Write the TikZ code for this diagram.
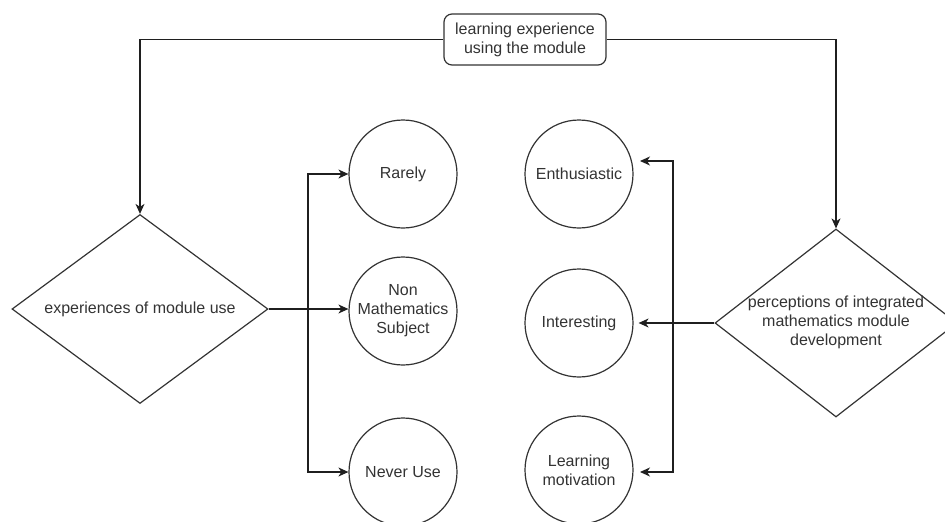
\documentclass[tikz,border=0pt]{standalone}
\usepackage{fontspec}
\setmainfont{Liberation Sans}
\usetikzlibrary{shapes.geometric,arrows.meta}
\begin{document}
\begin{tikzpicture}[x=1pt,y=-1pt,
  font=\fontsize{16}{19}\selectfont,
  every node/.style={text=black!80},
  conn/.style={draw=black!88,line width=1.2pt,-{Stealth[length=10pt,width=9pt,inset=3pt]}},
  topic/.style={draw=black!80,line width=1.2pt,rounded corners=8pt,minimum width=162pt,minimum height=51pt,align=center,inner sep=0pt},
  choice/.style={diamond,draw=black!80,line width=1.2pt,inner sep=0pt},
  item/.style={circle,draw=black!80,line width=1.2pt,minimum size=108pt,inner sep=0pt,align=center}]

\useasboundingbox (0,0) rectangle (945,522);

% central topic
\node[topic] (top) at (525,39.5) {learning experience\\using the module};

% the two decision diamonds
\node[choice,minimum width=256pt,minimum height=189pt] (use) at (140,309)
  {\makebox[0pt]{experiences of module use}};
\node[choice,minimum width=242pt,minimum height=188pt] (dev) at (836,323)
  {\makebox[0pt]{\begin{tabular}{@{}c@{}}perceptions of integrated\\mathematics module\\development\end{tabular}}};

% outcome circles
\node[item] (rarely)  at (403,174) {Rarely};
\node[item] (nonmath) at (403,311) {Non\\Mathematics\\Subject};
\node[item] (never)   at (403,472) {Never Use};
\node[item] (enth)    at (579,174) {Enthusiastic};
\node[item] (inter)   at (579,323) {Interesting};
\node[item] (motiv)   at (579,470) {Learning\\motivation};

% branch points and arrow targets
\coordinate (lsplit)  at (308,309);
\coordinate (rsplit)  at (673,323);
\coordinate (enthin)  at (640,161);
\coordinate (motivin) at (640,472);

% connectors
\draw[conn] (top.west) -| (use.north);
\draw[conn] (top.east) -| (dev.north);

\draw[conn] (use.east) -- (use.east -| nonmath.west);
\draw[conn] (lsplit) |- (rarely.west);
\draw[conn] (lsplit) |- (never.west);

\draw[conn,shorten >=5pt] (dev.west) -- (inter.east);
\draw[conn] (rsplit) |- (enthin);
\draw[conn] (rsplit) |- (motivin);
\end{tikzpicture}
\end{document}
